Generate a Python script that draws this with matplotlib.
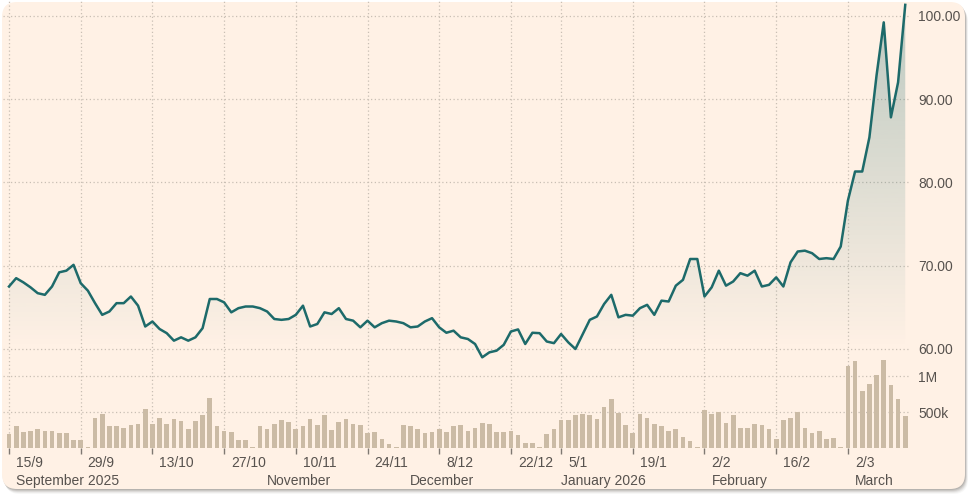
import matplotlib
matplotlib.use("Agg")
import matplotlib.pyplot as plt
from matplotlib.patches import FancyBboxPatch
from matplotlib.colors import to_rgb
import numpy as np
import pandas as pd

plt.rcParams["font.family"] = ["Liberation Sans", "DejaVu Sans"]

# trading days (London, so no Christmas/Boxing Day/New Year)
holidays = ["2025-12-25", "2025-12-26", "2026-01-01"]
dates = pd.bdate_range("2025-09-15", "2026-03-12")
dates = dates[~dates.isin(pd.to_datetime(holidays))]

price = [67.5, 68.5, 68.0, 67.4, 66.7, 66.5, 67.5, 69.2, 69.4, 70.1,
         67.9, 67.0, 65.5, 64.1, 64.5, 65.5, 65.5, 66.3, 65.2, 62.7,
         63.3, 62.4, 61.9, 61.0, 61.4, 61.0, 61.4, 62.5, 66.0, 66.0,
         65.6, 64.4, 64.9, 65.1, 65.1, 64.9, 64.5, 63.6, 63.5, 63.6,
         64.1, 65.2, 62.7, 63.0, 64.4, 64.2, 64.9, 63.6, 63.4, 62.6,
         63.4, 62.6, 63.1, 63.4, 63.3, 63.1, 62.6, 62.7, 63.3, 63.7,
         62.6, 61.95, 62.2, 61.4, 61.2, 60.6, 59.0, 59.6, 59.8, 60.5,
         62.1, 62.35, 60.6, 61.95, 61.9, 60.9, 60.7, 61.8, 60.8, 60.0,
         61.75, 63.5, 63.9, 65.4, 66.5, 63.8, 64.1, 64.0, 64.9, 65.3,
         64.1, 65.8, 65.7, 67.6, 68.3, 70.8, 70.8, 66.3, 67.4, 69.4,
         67.6, 68.1, 69.1, 68.8, 69.4, 67.5, 67.7, 68.6, 67.5, 70.4,
         71.7, 71.8, 71.5, 70.8, 70.9, 70.8, 72.3, 77.8, 81.3, 81.3,
         85.4, 92.85, 99.2, 87.8, 92.0, 101.3]

volume_k = [191, 299, 224, 243, 262, 243, 243, 210, 210, 107,
            107, 19, 420, 472, 299, 299, 280, 318, 332, 546,
            336, 420, 336, 406, 369, 266, 369, 458, 700, 299,
            243, 224, 107, 107, 19, 299, 266, 336, 388, 355,
            266, 299, 406, 318, 458, 248, 364, 406, 332, 318,
            215, 229, 121, 56, 14, 318, 299, 266, 215, 229,
            266, 229, 299, 313, 243, 280, 350, 332, 224, 224,
            243, 177, 70, 70, 19, 191, 262, 383, 383, 453,
            472, 453, 402, 574, 682, 490, 313, 210, 472, 420,
            332, 299, 243, 262, 159, 103, 14, 523, 472, 504,
            350, 453, 280, 280, 332, 313, 262, 121, 383, 420,
            504, 280, 210, 243, 121, 140, 14, 1135, 1205, 785,
            892, 1013, 1224, 873, 682, 439]

price_ticks = [60, 70, 80, 90, 100]
volume_ticks = [500_000, 1_000_000]
volume_tick_labels = ["500k", "1M"]

tick_dates = pd.date_range("2025-09-15", "2026-03-02", freq="14D")
month_keys = ["2025-09", "2025-11", "2025-12", "2026-01", "2026-02", "2026-03"]
month_labels = ["September 2025", "November", "December", "January 2026", "February", "March"]

x = np.arange(len(dates))
volume = np.array(volume_k) * 1000
tick_pos = dates.get_indexer(tick_dates)
tick_labels = [f"{d.day}/{d.month}" for d in tick_dates]
periods = dates.to_period("M").astype(str)
month_pos = [int(np.argmax(periods == m)) for m in month_keys]

# colours
PAPER = "#FFF1E5"
TEAL = "#1d6a6a"
BAR = "#cbbba5"
GRID = "#c9bfb4"
TEXT = "#57524e"

W, H = 969, 497
fig = plt.figure(figsize=(W / 100, H / 100), dpi=100)
fig.patch.set_facecolor("white")

# card + soft shadow
bg = fig.add_axes([0, 0, 1, 1], zorder=-5)
bg.set_xlim(0, W)
bg.set_ylim(H, 0)
bg.axis("off")
for off, a in [(5, 0.05), (4, 0.08), (3, 0.12), (2, 0.16), (1, 0.2)]:
    bg.add_patch(FancyBboxPatch((2 + off * 0.6, 2 + off), 963, 487,
                                boxstyle="round,pad=0,rounding_size=15",
                                fc="#6b645e", ec="none", alpha=a))
bg.add_patch(FancyBboxPatch((2, 2), 963, 487, boxstyle="round,pad=0,rounding_size=15",
                            fc=PAPER, ec="none"))


def px_axes(x0, y0, x1, y1):
    return fig.add_axes([x0 / W, 1 - y1 / H, (x1 - x0) / W, (y1 - y0) / H])


# pixel scale
X0_PX, DAY_PX = 9, 7.17
xlim = ((3 - X0_PX) / DAY_PX, (910 - X0_PX) / DAY_PX)
P60_PX, P_PX = 349, 8.333
V0_PX, V_PX = 448, 72 / 1e6

ax_p = px_axes(3, 0, 910, 355)
ax_v = px_axes(3, 355, 910, 448)

for ax in (ax_p, ax_v):
    ax.set_facecolor("none")
    ax.set_xlim(*xlim)
    for s in ax.spines.values():
        s.set_visible(False)
    ax.set_xticks(tick_pos)
    ax.grid(True, color=GRID, ls=(0, (1, 2)), lw=0.9)
    ax.set_axisbelow(True)
    ax.yaxis.tick_right()
    ax.tick_params(axis="y", length=0, pad=5.8, labelsize=10, labelcolor=TEXT)

# price panel
pmin = 60 - (355 - P60_PX) / P_PX
pmax = 60 + P60_PX / P_PX
ax_p.set_ylim(pmin, pmax)
ax_p.set_yticks(price_ticks)
ax_p.set_yticklabels([f"{v:.2f}" for v in price_ticks])
ax_p.tick_params(axis="x", length=0, labelbottom=False)

# gradient fill under the line, fading downwards
n = 256
ys = np.linspace(pmin, pmax, n)
ypx = P60_PX - (ys - 60) * P_PX
alpha = np.clip(0.3 * (1 - ypx / P60_PX), 0, None)
grad = np.zeros((n, 1, 4))
grad[:, 0, :3] = to_rgb(TEAL)
grad[:, 0, 3] = alpha
poly = ax_p.fill_between(x, price, pmin, color="none", lw=0)
im = ax_p.imshow(grad, extent=[x[0], x[-1], pmin, pmax], origin="lower",
                 aspect="auto", zorder=1, interpolation="bilinear")
im.set_clip_path(poly.get_paths()[0], transform=ax_p.transData)
ax_p.set_xlim(*xlim)
ax_p.set_ylim(pmin, pmax)
ax_p.plot(x, price, color=TEAL, lw=1.8, zorder=3, solid_joinstyle="round", clip_on=False)

# volume panel
ax_v.set_ylim(0, (V0_PX - 355) / V_PX)
ax_v.bar(x, volume, width=0.65, color=BAR, zorder=2)
ax_v.set_yticks(volume_ticks)
ax_v.set_yticklabels(volume_tick_labels)
ax_v.tick_params(axis="x", direction="out", length=4.5, width=1, color="#7f7872",
                 labelbottom=False)

for p, lab in zip(tick_pos, tick_labels):
    ax_v.annotate(lab, xy=(p, 0), xycoords=("data", "axes fraction"),
                  xytext=(7, -15), textcoords="offset pixels",
                  ha="left", va="center", fontsize=10, color=TEXT)
for p, lab in zip(month_pos, month_labels):
    ax_v.annotate(lab, xy=(p, 0), xycoords=("data", "axes fraction"),
                  xytext=(7, -33), textcoords="offset pixels",
                  ha="left", va="center", fontsize=10, color=TEXT)

fig.savefig("out.png", dpi=100, facecolor=fig.get_facecolor())
